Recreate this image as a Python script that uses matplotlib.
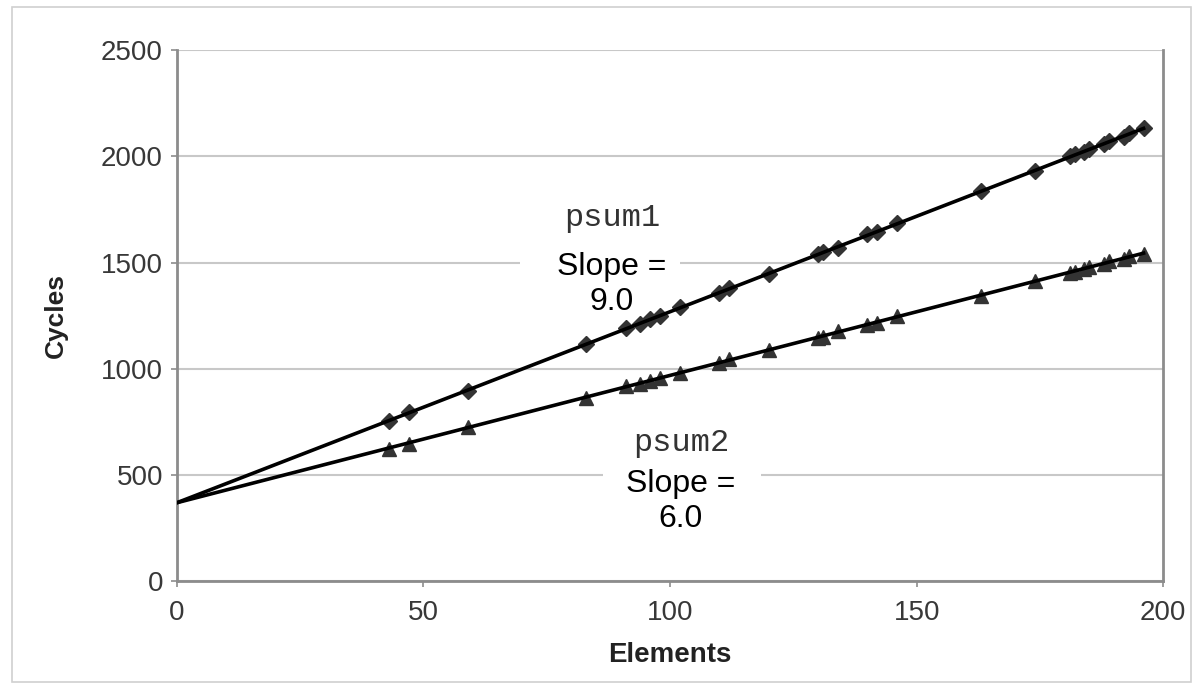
import matplotlib.pyplot as plt
from matplotlib.patches import Rectangle

# %%
elements = [43, 47, 59, 83, 91, 94, 96, 98, 102, 110, 112, 120, 130, 131, 134,
            140, 142, 146, 163, 174, 181, 182, 184, 185, 188, 189, 192, 193, 196]
psum1_cycles = [752, 794, 896, 1118, 1190, 1210, 1236, 1247, 1290, 1355, 1380, 1445,
                1542, 1550, 1570, 1632, 1643, 1686, 1838, 1930, 2000, 2010, 2020, 2036,
                2057, 2072, 2093, 2108, 2135]
psum2_cycles = [622, 647, 725, 862, 917, 929, 941, 958, 977, 1025, 1043, 1090,
                1145, 1151, 1175, 1205, 1217, 1247, 1343, 1415, 1450, 1457, 1470, 1481,
                1494, 1505, 1517, 1529, 1541]
fit_x = [0, 196]
psum1_fit = [368, 2132]
psum2_fit = [368, 1544]
psum1_slope = "9.0"
psum2_slope = "6.0"

# %%
fig = plt.figure(figsize=(12.03, 6.89), dpi=100)
ax = fig.add_axes([0.147, 0.157, 0.820, 0.770])

# light frame round the whole chart
fig.patches.append(Rectangle((0.010, 0.010), 0.980, 0.980, transform=fig.transFigure,
                             fill=False, edgecolor="#d0d0d0", linewidth=1.2))

ax.plot(elements, psum1_cycles, linestyle="none", marker="D", markersize=8,
        color="#333333", zorder=3)
ax.plot(elements, psum2_cycles, linestyle="none", marker="^", markersize=10,
        color="#333333", zorder=3)
ax.plot(fit_x, psum1_fit, color="black", linewidth=2.6, zorder=4)
ax.plot(fit_x, psum2_fit, color="black", linewidth=2.6, zorder=4)

ax.set_xlim(0, 200)
ax.set_ylim(0, 2500)
ax.set_xticks([0, 50, 100, 150, 200])
ax.set_yticks([0, 500, 1000, 1500, 2000, 2500])
ax.grid(axis="y", color="#c8c8c8", linewidth=1.5, zorder=0)
ax.set_axisbelow(True)

for side in ["left", "bottom", "right"]:
    ax.spines[side].set_color("#8c8c8c")
    ax.spines[side].set_linewidth(2)
ax.spines["top"].set_visible(False)
ax.tick_params(colors="#8c8c8c", labelcolor="#383838", labelsize=20, length=4,
               width=1.2, pad=6)
ax.tick_params(axis="x", pad=10)
for lab in ax.get_xticklabels() + ax.get_yticklabels():
    lab.set_family("Liberation Sans")

ax.set_xlabel("Elements", fontsize=20, fontweight="bold", family="Liberation Sans",
              color="#222222", labelpad=11)
ax.set_ylabel("Cycles", fontsize=19, fontweight="bold", family="Liberation Sans",
              color="#222222", labelpad=24)

# white patches that break the gridlines behind the labels
ax.add_patch(Rectangle((69.5, 1440), 32.5, 120, facecolor="white", edgecolor="none", zorder=1))
ax.add_patch(Rectangle((86.5, 440), 32, 120, facecolor="white", edgecolor="none", zorder=1))

ax.text(88.2, 1710, "psum1", ha="center", va="center", fontsize=23,
        family="Liberation Mono", color="#333333", zorder=5)
ax.text(88.2, 1395, "Slope =\n" + psum1_slope, ha="center", va="center",
        fontsize=23, family="Liberation Sans", linespacing=1.22, zorder=5)
ax.text(102.2, 650, "psum2", ha="center", va="center", fontsize=23,
        family="Liberation Mono", color="#333333", zorder=5)
ax.text(102.2, 375, "Slope =\n" + psum2_slope, ha="center", va="center",
        fontsize=23, family="Liberation Sans", linespacing=1.22, zorder=5)

plt.savefig("out.png", dpi=100)
